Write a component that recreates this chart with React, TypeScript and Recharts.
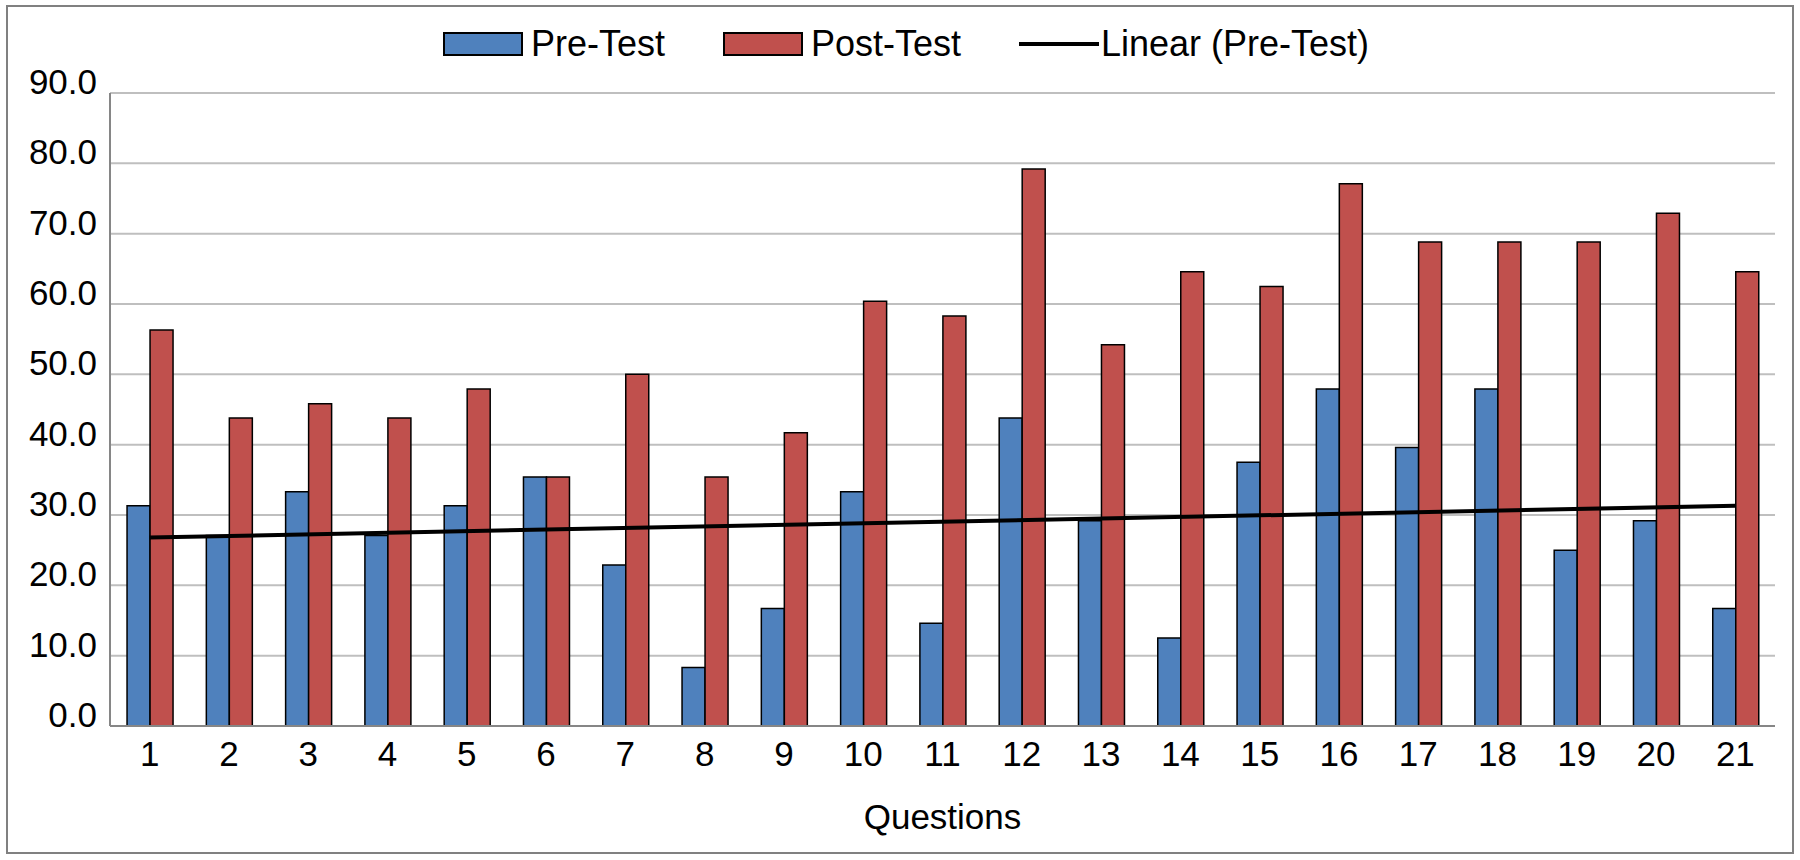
import { ComposedChart, Bar, Line, XAxis, YAxis, CartesianGrid, Legend } from 'recharts';

const questions = ['1', '2', '3', '4', '5', '6', '7', '8', '9', '10', '11', '12', '13', '14', '15', '16', '17', '18', '19', '20', '21'];
const preTest = [31.3, 27.1, 33.3, 27.1, 31.3, 35.4, 22.9, 8.3, 16.7, 33.3, 14.6, 43.8, 29.2, 12.5, 37.5, 47.9, 39.6, 47.9, 25.0, 29.2, 16.7];
const postTest = [56.3, 43.8, 45.8, 43.8, 47.9, 35.4, 50.0, 35.4, 41.7, 60.4, 58.3, 79.2, 54.2, 64.6, 62.5, 77.1, 68.8, 68.8, 68.8, 72.9, 64.6];
// trendline endpoints (first and last question)
const trendPre = [26.8, null, null, null, null, null, null, null, null, null, null, null, null, null, null, null, null, null, null, null, 31.3];
const yTicks = [0, 10, 20, 30, 40, 50, 60, 70, 80, 90];

const BLUE = '#4F81BD';
const RED = '#C0504D';
const FONT = '"Liberation Sans", Arial, sans-serif';

const data = questions.map((q, i) => ({
  q,
  pre: preTest[i],
  post: postTest[i],
  trend: trendPre[i],
}));

const YTick = ({ y, payload }: any) => (
  <text x={97} y={y + 1} textAnchor="end" fontSize={35} fill="#000" fontFamily={FONT}>
    {payload.value.toFixed(1)}
  </text>
);

const XTick = ({ x, y, payload }: any) => (
  <text x={x} y={y + 32} textAnchor="middle" fontSize={35} fill="#000" fontFamily={FONT}>
    {payload.value}
  </text>
);

const LegendContent = () => {
  const items = [
    { label: 'Pre-Test', type: 'box', color: BLUE },
    { label: 'Post-Test', type: 'box', color: RED },
    { label: 'Linear (Pre-Test)', type: 'line', color: '#000' },
  ];
  return (
    <div style={{ display: 'flex', justifyContent: 'center', alignItems: 'center', gap: 58, fontFamily: FONT, fontSize: 36, color: '#000' }}>
      {items.map((it) => (
        <div key={it.label} style={{ display: 'flex', alignItems: 'center' }}>
          {it.type === 'box' ? (
            <div style={{ width: 80, height: 24, background: it.color, border: '2px solid #000', boxSizing: 'border-box', marginRight: 8 }} />
          ) : (
            <div style={{ width: 80, height: 4, background: it.color, marginRight: 2 }} />
          )}
          <span style={{ lineHeight: '40px' }}>{it.label}</span>
        </div>
      ))}
    </div>
  );
};

export default function App() {
  return (
    <div style={{ position: 'absolute', left: 0, top: 0, width: 1800, height: 860, background: '#fff' }}>
      <div
        style={{
          position: 'absolute',
          left: 6,
          top: 5,
          width: 1788,
          height: 849,
          border: '2px solid #808080',
          boxSizing: 'border-box',
        }}
      />
      <ComposedChart
        width={1800}
        height={860}
        data={data}
        margin={{ top: 93, right: 25, bottom: 0, left: 0 }}
        barCategoryGap="21.5%"
        barGap={0}
      >
        <CartesianGrid vertical={false} stroke="#bfbfbf" strokeWidth={2} />
        <XAxis
          dataKey="q"
          height={134}
          axisLine={{ stroke: '#868686', strokeWidth: 2 }}
          tickLine={false}
          tick={<XTick />}
          interval={0}
          label={{ value: 'Questions', position: 'insideBottom', offset: 31, fontSize: 35, fill: '#000', fontFamily: FONT }}
        />
        <YAxis
          width={110}
          domain={[0, 90]}
          ticks={yTicks}
          axisLine={{ stroke: '#868686', strokeWidth: 2 }}
          tickLine={false}
          tick={<YTick />}
          interval={0}
        />
        <Legend
          layout="horizontal"
          verticalAlign="middle"
          align="center"
          content={<LegendContent />}
          wrapperStyle={{ top: 24, left: 6, width: 1800 }}
        />
        <Bar dataKey="pre" name="Pre-Test" fill={BLUE} stroke="#000" strokeWidth={1.5} isAnimationActive={false} />
        <Bar dataKey="post" name="Post-Test" fill={RED} stroke="#000" strokeWidth={1.5} isAnimationActive={false} />
        <Line
          dataKey="trend"
          name="Linear (Pre-Test)"
          type="linear"
          stroke="#000"
          strokeWidth={4}
          dot={false}
          activeDot={false}
          connectNulls
          isAnimationActive={false}
        />
      </ComposedChart>
    </div>
  );
}
